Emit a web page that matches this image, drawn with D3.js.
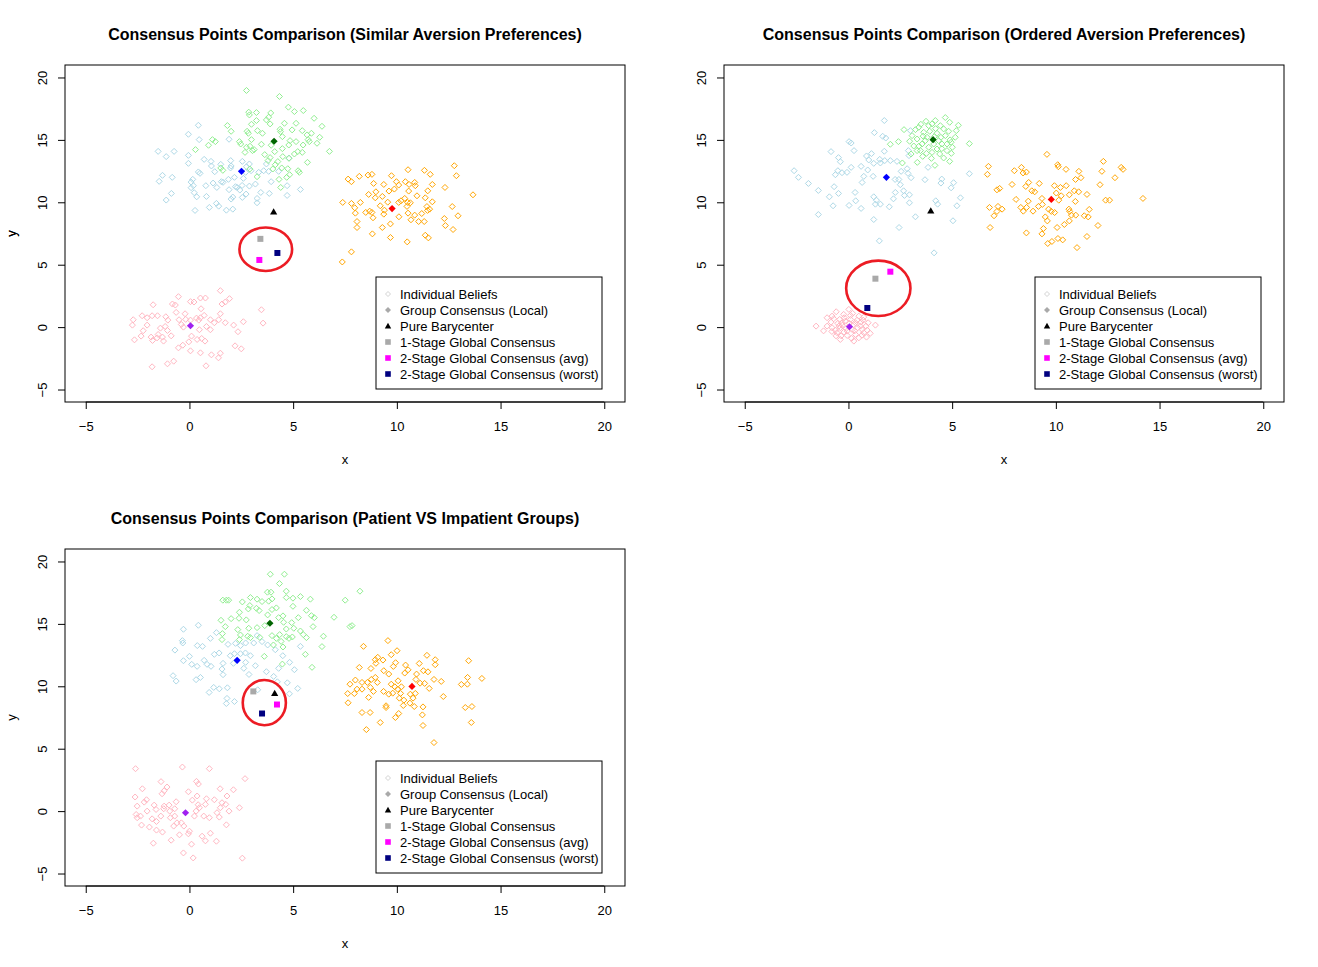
<!DOCTYPE html>
<html>
<head>
<meta charset="utf-8">
<script src="https://cdn.jsdelivr.net/npm/d3@7"></script>
<style>
  body { margin: 0; background: #fff; }
  svg { display: block; }
  text { font-family: "Liberation Sans", Arial, sans-serif; }
</style>
</head>
<body>
<div id="chart"></div>
<script>
// ---- data ----
const panelTitles = [
  "Consensus Points Comparison (Similar Aversion Preferences)",
  "Consensus Points Comparison (Ordered Aversion Preferences)",
  "Consensus Points Comparison (Patient VS Impatient Groups)"
];
const tickValues = [-5, 0, 5, 10, 15, 20];
const legendLabels = [
  "Individual Beliefs",
  "Group Consensus (Local)",
  "Pure Barycenter",
  "1-Stage Global Consensus",
  "2-Stage Global Consensus (avg)",
  "2-Stage Global Consensus (worst)"
];

// panel 1: similar aversion
const p1Blue = [[0.43,16.17],[-0.05,15.45],[0.47,15.02],[1.91,15.05],[-1.51,14.08],[-1.12,13.66],[-0.74,14.08],[-0.05,13.76],[-0.05,13.12],[0.71,13.44],[1.04,13.28],[1.06,12.91],[1.51,13.04],[1.99,13.34],[2.01,12.91],[2.55,13.28],[1.98,12.75],[0.43,12.43],[0.51,12.32],[1.22,12.45],[0.16,11.84],[0.08,11.62],[0.19,11.33],[0.08,11.17],[-1.46,11.68],[-1.3,12.16],[-0.83,12.0],[-0.87,10.71],[-1.12,10.18],[0.23,10.77],[0.35,10.44],[0.79,11.33],[0.82,10.47],[1.14,11.54],[1.32,11.19],[1.54,11.65],[1.62,11.6],[1.88,11.84],[2.17,12.0],[1.91,11.01],[2.22,11.25],[2.43,10.98],[2.54,11.35],[2.6,11.92],[2.71,12.4],[2.75,12.85],[2.89,13.07],[2.97,12.53],[3.34,12.4],[3.58,12.53],[3.71,13.07],[3.82,12.48],[3.94,11.65],[4.3,12.48],[4.71,11.33],[5.35,11.03],[4.71,10.55],[3.85,10.71],[3.44,10.79],[3.18,11.46],[2.89,11.3],[2.73,10.66],[3.26,10.31],[3.26,9.96],[2.55,10.39],[2.09,10.42],[2.01,10.26],[0.96,9.59],[1.3,9.91],[1.41,9.69],[1.78,9.37],[2.09,9.45],[0.27,9.35],[2.3,11.19],[4.8,13.55]];
const p1Green = [[2.75,18.96],[4.34,18.48],[4.77,17.62],[5.06,17.27],[5.49,17.35],[2.86,17.22],[3.23,17.19],[2.89,17.0],[3.92,17.16],[3.82,16.82],[3.71,16.6],[3.23,16.55],[3.89,16.28],[4.58,16.33],[5.14,16.33],[6.01,16.73],[6.39,16.09],[2.99,16.25],[1.83,16.15],[2.01,15.69],[2.78,15.69],[2.84,15.53],[3.28,15.74],[3.52,15.53],[4.37,15.85],[4.39,15.66],[4.95,15.8],[5.44,15.74],[5.88,15.53],[5.67,15.4],[6.28,15.21],[4.48,15.26],[4.85,14.94],[5.14,14.86],[5.72,15.02],[5.78,14.86],[6.15,14.73],[1.11,15.02],[1.25,14.86],[0.92,14.57],[2.41,14.86],[2.47,14.67],[2.99,15.02],[2.92,14.49],[2.75,14.41],[3.12,14.22],[3.47,14.65],[3.94,14.57],[4.48,14.3],[4.79,14.59],[5.48,14.59],[0.29,14.22],[2.68,14.0],[3.04,14.14],[4.11,14.06],[3.63,13.82],[3.89,13.58],[3.79,13.34],[4.26,13.26],[4.14,13.01],[4.5,13.66],[4.8,13.52],[5.06,13.87],[5.44,14.0],[5.22,14.06],[5.69,13.2],[6.75,14.08],[1.51,12.75],[1.61,12.56],[2.91,12.67],[4.02,12.67],[4.45,12.75],[4.74,12.69],[5.3,12.4],[4.32,11.84],[4.4,11.19],[4.69,12.0],[4.83,12.21],[5.24,12.53],[3.26,12.05]];
const p1Orange = [[12.77,12.93],[12.87,12.13],[10.54,12.61],[11.33,12.56],[11.61,12.24],[9.74,12.13],[8.61,12.18],[8.8,12.24],[8.19,12.08],[7.65,11.86],[7.81,11.65],[8.88,11.51],[9.37,11.43],[9.98,11.65],[10.09,11.38],[10.41,11.65],[10.86,11.59],[10.89,11.33],[10.59,11.43],[9.88,11.06],[9.62,10.9],[8.99,10.84],[8.64,10.63],[8.96,10.36],[9.3,10.47],[10.57,10.9],[10.97,10.52],[11.49,10.92],[11.71,11.43],[12.32,11.19],[13.67,10.6],[11.37,10.36],[11.71,10.04],[7.39,9.99],[7.81,9.91],[8.24,9.99],[7.97,9.56],[8.0,9.13],[8.5,9.19],[8.69,9.29],[8.8,9.19],[8.85,8.76],[9.2,9.72],[9.4,9.37],[9.56,10.01],[10.09,9.99],[10.2,10.12],[10.38,10.31],[10.52,9.99],[10.65,9.96],[10.49,9.67],[10.1,8.84],[10.54,9.13],[10.86,8.97],[10.68,8.6],[11.05,8.46],[11.32,8.46],[11.2,9.1],[11.48,9.35],[11.58,9.45],[11.45,9.66],[12.67,9.66],[12.95,8.92],[12.29,8.7],[12.34,8.14],[12.71,7.82],[9.69,8.27],[9.3,7.98],[8.08,8.46],[8.08,7.98],[8.82,7.47],[9.69,7.18],[10.5,6.83],[11.37,7.36],[11.52,7.15],[7.81,6.03],[7.37,5.22],[9.37,9.05]];
const p1Pink = [[1.49,2.92],[1.93,2.28],[1.73,2.01],[1.57,1.85],[-0.53,2.44],[-0.82,1.85],[-0.68,1.77],[-1.75,1.79],[0.05,2.04],[0.22,2.01],[0.53,2.33],[0.77,2.33],[0.56,1.47],[-0.64,1.18],[-0.21,1.07],[-2.28,0.91],[-2.04,0.75],[-1.8,0.91],[-1.54,0.91],[-2.71,0.59],[-2.75,0.16],[-2.04,0.16],[-2.23,-0.29],[-2.33,-0.72],[-2.65,-1.02],[-1.85,-0.8],[-1.78,-1.07],[-1.56,-0.86],[-1.51,-0.59],[-1.3,-0.8],[-1.25,-1.12],[-1.4,-0.08],[-1.17,0.05],[-1.06,-0.27],[-0.88,-0.7],[-1.14,0.83],[-1.04,0.56],[-0.5,0.59],[-0.39,0.21],[-0.29,0.0],[-0.18,0.62],[0.05,0.56],[0.34,0.72],[0.45,0.56],[0.53,0.75],[0.71,0.94],[1.01,0.59],[0.82,0.05],[1.01,-0.21],[0.48,-0.21],[1.2,0.35],[1.49,1.07],[1.41,0.59],[1.73,0.35],[2.13,0.16],[2.6,0.43],[3.47,1.39],[3.55,0.32],[2.34,-0.37],[0.1,-0.72],[-0.03,-1.18],[0.37,-0.99],[0.59,-0.91],[0.75,-1.12],[-0.32,-1.45],[-0.53,-1.66],[0.05,-1.9],[0.53,-2.06],[1.06,-2.22],[1.49,-2.09],[1.4,-2.46],[2.2,-1.5],[2.5,-1.74],[0.8,-3.1],[-0.76,-2.73],[-1.06,-2.94],[-1.8,-3.18]];
// group centres: blue, green, orange, pink groups
const p1Centers = [[2.51,12.48],[4.08,14.89],[9.77,9.5],[0.05,0.11]];
// barycenter, 1-stage, 2-stage avg, 2-stage worst
const p1Global = [[4.06,9.24],[3.42,7.07],[3.37,5.38],[4.24,5.94]];
// highlight ellipse: cx, cy, rx, ry (data units)
const p1Ring = [3.68, 6.24, 1.27, 1.74];

// panel 2: ordered aversion
const p2Blue = [[1.73,16.55],[1.25,15.58],[1.65,15.29],[1.8,15.15],[0.03,14.86],[0.13,14.75],[-0.84,14.06],[0.27,14.14],[-0.48,13.58],[-0.39,13.25],[0.87,13.71],[1.11,13.9],[0.98,13.39],[1.22,13.12],[1.51,13.44],[1.54,13.15],[1.73,14.09],[2.02,13.34],[2.34,13.28],[2.89,14.14],[2.92,13.74],[2.99,15.74],[-2.62,12.53],[-2.41,12.0],[-1.93,11.51],[-1.45,10.95],[-0.69,11.25],[-0.63,12.21],[-0.51,12.53],[-0.31,12.37],[-0.07,12.4],[0.13,12.8],[0.61,12.88],[0.74,12.08],[0.66,11.59],[0.93,12.59],[1.19,12.08],[-0.48,10.71],[-0.92,10.44],[-0.74,9.72],[-1.45,9.02],[0.03,9.75],[0.32,10.79],[0.35,10.12],[0.61,9.51],[1.22,10.44],[1.35,10.17],[1.3,9.85],[1.54,9.85],[1.22,8.62],[1.97,9.64],[2.17,10.28],[2.26,10.79],[2.25,11.83],[2.43,11.83],[2.5,11.41],[2.66,10.92],[2.94,10.6],[2.7,10.55],[2.94,9.96],[2.54,12.48],[2.83,12.69],[2.87,12.32],[3.02,11.97],[2.44,7.98],[3.23,8.84],[1.49,6.91],[4.13,5.95],[3.69,11.81],[3.84,12.8],[4.5,11.86],[4.46,11.54],[4.95,11.16],[5.07,11.57],[5.4,10.36],[5.83,12.29],[4.21,10.12],[4.3,9.85],[5.23,9.72],[5.04,8.52],[1.75,13.34]];
const p2Green = [[2.68,15.82],[2.02,14.65],[2.41,14.86],[2.6,13.15],[3.32,13.2],[4.17,12.96],[4.88,13.28],[5.83,14.7],[5.3,16.17],[4.67,16.79],[4.19,16.55],[3.74,16.49],[3.49,16.25],[3.23,15.82],[3.07,15.34],[2.95,14.89],[3.15,14.51],[3.31,14.14],[3.02,13.87],[3.58,13.68],[4.0,13.52],[4.59,13.55],[4.96,13.92],[5.01,14.41],[5.15,15.21],[5.2,15.74],[4.88,16.41],[4.43,16.14],[3.87,16.14],[3.63,15.61],[3.79,15.21],[4.27,15.53],[4.67,15.34],[4.51,14.67],[4.27,14.27],[3.87,14.41],[3.55,14.67],[3.31,15.07],[4.03,14.0],[4.75,14.14],[4.95,14.81],[3.92,15.69],[4.59,15.88],[4.11,14.67],[4.35,14.94],[3.71,14.94],[3.47,14.14],[4.4,13.87],[4.75,14.67],[3.39,16.01],[4.03,16.28],[3.76,13.92],[4.83,15.69],[4.14,15.26],[4.46,15.21],[3.6,15.3],[4.2,15.9],[4.9,15.0],[3.4,14.5],[4.5,14.3]];
const p2Orange = [[9.57,13.84],[10.09,13.01],[10.12,12.85],[10.49,12.64],[11.11,12.48],[12.29,13.28],[12.22,12.48],[13.15,12.8],[13.24,12.64],[12.85,11.97],[11.21,11.97],[10.95,11.83],[12.13,11.41],[6.75,12.88],[6.7,12.24],[8.0,12.53],[8.34,12.8],[8.42,12.35],[8.58,12.42],[7.89,11.43],[7.16,11.0],[7.29,11.11],[8.69,11.59],[8.55,11.27],[8.84,10.92],[8.98,10.84],[9.2,11.51],[9.93,11.33],[10.22,11.19],[10.5,11.33],[10.02,10.74],[10.26,10.52],[10.65,10.6],[10.89,10.92],[11.1,10.84],[11.5,10.63],[8.08,10.23],[8.67,10.09],[9.33,10.31],[10.14,10.17],[10.94,10.07],[12.4,10.17],[12.59,10.17],[14.2,10.31],[6.8,9.59],[7.21,9.67],[7.41,9.45],[7.02,8.92],[7.16,9.27],[8.31,9.59],[8.43,9.29],[8.59,9.59],[8.9,9.29],[9.16,9.67],[9.35,9.83],[9.65,9.45],[9.78,9.27],[9.94,9.18],[10.63,9.45],[10.67,9.27],[10.75,8.97],[10.96,8.97],[11.37,8.92],[11.61,9.43],[11.56,8.83],[9.49,8.83],[9.59,8.51],[10.65,8.51],[10.41,8.22],[10.06,7.98],[12.03,8.14],[6.83,7.98],[9.4,7.9],[8.58,7.55],[9.33,7.47],[11.5,7.26],[10.1,7.1],[10.33,6.99],[9.81,6.86],[9.61,6.7],[11.02,6.37]];
const p2Pink = [[-0.59,1.23],[0.02,1.42],[-0.23,1.02],[0.1,0.94],[-0.71,0.67],[-0.42,0.62],[-0.84,0.4],[-1.56,0.08],[-1.03,0.08],[-0.79,-0.05],[-0.51,0.3],[-0.31,0.35],[0.42,0.56],[0.71,0.56],[0.85,0.08],[1.3,0.16],[0.58,0.08],[0.34,0.35],[-0.39,-0.05],[-0.22,-0.4],[-0.55,-0.45],[-0.06,-0.67],[0.34,-0.59],[0.74,-0.45],[0.87,-0.8],[0.5,-0.86],[-0.39,-0.99],[0.26,-1.12],[-0.06,-0.32],[0.18,-0.19],[0.66,-0.19],[-0.63,-0.24],[0.9,-0.24],[-0.15,0.48],[0.1,0.62],[0.5,0.88],[0.74,0.8],[-1.03,0.75],[-0.79,0.88],[-0.3,0.15],[0.25,0.2],[-0.6,-0.7],[0.95,0.35],[0.15,-0.9],[-1.2,-0.3],[-0.45,0.1],[0.05,0.3],[0.3,-0.3],[-0.2,0.75],[0.6,0.4],[-0.8,-0.35],[1.05,-0.5],[0.45,-0.05],[-0.1,-0.1],[0.2,1.1],[-0.35,-0.7],[0.65,-0.65]];
const p2Centers = [[1.83,12.0],[4.08,15.02],[9.78,10.23],[0.05,0.03]];
const p2Global = [[3.97,9.32],[1.3,3.88],[2.02,4.44],[0.91,1.53]];
const p2Ring = [1.44, 3.11, 1.55, 2.22];

// panel 3: patient vs impatient
const p3Blue = [[-0.29,14.57],[0.43,14.89],[1.01,13.84],[-0.34,13.66],[-0.32,13.47],[0.38,13.26],[0.63,13.2],[1.86,13.36],[2.22,13.44],[2.46,13.26],[2.71,13.47],[3.1,13.47],[3.5,13.58],[3.26,14.06],[3.77,13.31],[4.14,12.93],[5.35,13.2],[4.5,12.45],[0.0,12.4],[-0.29,12.05],[0.11,11.76],[0.37,11.6],[0.71,12.08],[0.85,11.76],[1.04,11.6],[1.2,12.56],[1.43,12.67],[1.62,11.84],[1.57,11.38],[1.97,12.45],[2.17,12.61],[2.46,12.61],[2.7,12.67],[2.94,12.45],[2.71,11.92],[3.18,11.65],[2.62,11.44],[2.12,11.84],[-0.79,10.85],[-0.64,10.42],[0.32,10.53],[0.53,10.71],[1.62,10.93],[2.87,10.95],[3.71,11.17],[4.06,10.79],[4.3,11.44],[4.83,11.92],[5.06,11.33],[4.24,10.36],[4.72,10.28],[5.22,9.83],[4.82,9.4],[1.17,9.91],[1.44,9.8],[0.95,9.51],[1.83,9.88],[1.81,9.03],[1.78,8.62],[2.17,8.78],[3.29,9.72],[-0.7,12.9],[1.3,14.3]];
const p3Green = [[3.9,18.98],[4.58,18.98],[4.34,18.23],[4.67,17.62],[3.76,17.54],[3.93,17.54],[8.22,17.62],[1.61,16.9],[1.78,16.9],[1.89,16.9],[2.55,16.76],[2.94,17.11],[3.26,16.98],[3.5,16.79],[3.82,16.82],[3.98,17.0],[4.67,17.11],[4.99,17.06],[5.35,17.19],[5.83,16.98],[7.51,16.9],[2.41,15.93],[2.84,16.2],[2.91,16.47],[3.23,16.25],[3.36,16.07],[3.98,16.15],[4.19,16.28],[4.99,16.41],[5.64,16.09],[5.88,15.66],[6.02,15.5],[6.97,15.53],[1.52,15.29],[2.01,15.42],[2.39,15.45],[1.73,14.78],[2.33,14.54],[2.74,15.32],[2.86,14.65],[3.26,14.7],[3.63,14.86],[3.77,15.72],[4.3,15.5],[4.51,15.64],[4.54,15.13],[4.67,14.59],[4.93,15.1],[5.03,14.65],[5.25,15.5],[5.35,14.43],[5.49,14.14],[5.64,13.9],[5.96,14.78],[6.46,14.01],[6.39,13.18],[5.59,12.56],[5.91,11.52],[1.59,14.22],[1.57,13.74],[2.46,14.11],[2.41,13.74],[2.81,14.01],[2.94,13.9],[3.39,13.92],[3.98,14.06],[4.19,13.84],[4.35,14.14],[4.42,13.6],[4.67,13.98],[4.8,13.84],[4.96,13.95],[4.05,13.31],[4.51,13.15],[3.61,12.4],[4.48,11.78],[7.74,14.78],[7.84,14.86]];
const p3Orange = [[8.39,13.2],[9.57,13.66],[10.01,12.85],[9.73,12.53],[9.08,12.32],[8.96,12.13],[9.33,12.1],[8.99,11.84],[8.19,11.51],[8.75,11.43],[9.94,11.89],[9.83,11.59],[10.42,11.7],[10.54,11.32],[10.38,11.06],[9.37,11.25],[9.61,10.98],[11.45,12.48],[11.85,12.13],[11.85,11.73],[11.08,11.83],[11.28,11.25],[11.5,11.16],[10.95,10.98],[10.92,10.55],[11.12,10.25],[11.34,10.23],[11.79,10.55],[12.14,10.39],[13.46,12.05],[13.41,10.71],[13.4,10.17],[13.11,10.15],[14.1,10.63],[8.0,10.5],[7.74,10.17],[8.32,10.31],[8.58,10.31],[8.77,10.55],[8.96,10.71],[9.06,10.31],[10.06,10.44],[9.73,10.17],[9.9,9.96],[10.04,9.77],[10.22,9.96],[8.72,9.91],[8.32,9.77],[8.08,9.77],[7.63,9.42],[7.95,9.42],[8.87,9.59],[9.36,9.59],[9.61,9.37],[9.8,9.45],[10.18,9.43],[10.65,9.37],[10.89,9.43],[11.56,9.83],[8.64,9.11],[10.12,9.05],[10.34,8.89],[10.78,9.05],[12.24,9.18],[7.65,8.68],[9.48,8.44],[9.48,8.3],[10.31,8.46],[10.63,8.65],[10.84,8.38],[11.26,8.35],[11.23,7.71],[13.3,8.3],[13.62,8.38],[8.32,7.9],[8.71,7.9],[10.09,7.82],[9.93,7.5],[9.2,7.1],[11.26,6.86],[13.59,7.1],[8.53,6.53],[11.79,5.49]];
const p3Pink = [[-2.6,3.4],[-0.34,3.53],[0.96,3.4],[2.68,2.6],[-1.37,2.36],[0.34,2.38],[0.43,2.17],[-1.08,1.93],[-1.22,1.63],[-1.32,1.39],[-2.27,1.79],[-0.05,1.55],[1.48,1.79],[2.12,1.71],[1.81,1.21],[-2.62,1.13],[-2.07,0.91],[-2.18,0.72],[-2.52,0.4],[-1.7,0.48],[-1.22,0.4],[-0.98,0.48],[-0.64,0.75],[-0.71,0.19],[0.14,0.88],[0.37,1.21],[0.82,0.99],[1.2,0.91],[1.57,0.67],[1.75,0.54],[0.42,0.51],[0.77,0.54],[2.41,0.27],[1.91,0.0],[1.49,0.27],[1.33,-0.13],[1.44,-0.48],[0.48,0.27],[0.32,0.0],[0.24,-0.4],[0.69,-0.4],[0.96,-0.53],[-1.61,0.13],[-2.04,0.0],[-2.57,-0.27],[-2.36,-0.4],[-2.52,-0.53],[-1.8,-0.62],[-1.59,-0.83],[-1.38,-0.4],[-1.24,0.19],[-0.95,0.0],[-0.92,-0.53],[-0.71,-0.4],[-0.6,-0.94],[-0.76,-1.2],[-0.39,-0.94],[-0.27,-1.2],[-2.31,-1.12],[-1.93,-1.28],[-1.59,-1.52],[-1.3,-1.68],[-0.48,-1.9],[-0.05,-1.82],[0.0,-1.61],[0.61,-2.01],[0.77,-2.38],[1.01,-1.77],[1.3,-2.41],[1.78,-1.1],[-0.88,-2.33],[-1.74,-2.57],[0.1,-2.65],[-0.29,-3.35],[0.18,-3.75],[2.55,-3.77]];
const p3Centers = [[2.3,12.08],[3.88,15.05],[10.73,9.99],[-0.19,-0.13]];
const p3Global = [[4.11,9.43],[3.08,9.59],[4.22,8.54],[3.5,7.82]];
const p3Ring = [3.61, 8.69, 1.04, 1.81];

// ---- styling / layout ----
const beliefColors = ["#ADD8E6", "#90EE90", "#FFA500", "#FFB6C1"];
const centerColors = ["#0000FF", "#006400", "#FF0000", "#A020F0"];
const globalColors = ["#000000", "#A9A9A9", "#FF00FF", "#000080"];
const globalShapes = ["triangle", "square", "square", "square"];

const panels = [
  { left: 65, top: 65, title: panelTitles[0], groups: [p1Blue, p1Green, p1Orange, p1Pink], centers: p1Centers, global: p1Global, ring: p1Ring },
  { left: 724, top: 65, title: panelTitles[1], groups: [p2Blue, p2Green, p2Orange, p2Pink], centers: p2Centers, global: p2Global, ring: p2Ring },
  { left: 65, top: 549, title: panelTitles[2], groups: [p3Blue, p3Green, p3Orange, p3Pink], centers: p3Centers, global: p3Global, ring: p3Ring }
];
const plotW = 560, plotH = 337;

const svg = d3.select("#chart").append("svg")
  .attr("width", 1318)
  .attr("height", 967)
  .style("background", "#fff");

const diamond = r => `M0,${-r}L${r},0L0,${r}L${-r},0Z`;
const triangle = r => `M0,${-r}L${r},${r * 0.75}L${-r},${r * 0.75}Z`;
const square = r => `M${-r},${-r}H${r}V${r}H${-r}Z`;

function drawPanel(p) {
  const x = d3.scaleLinear().domain([-6, 21]).range([p.left, p.left + plotW]);
  const y = d3.scaleLinear().domain([-6, 21]).range([p.top + plotH, p.top]);
  const g = svg.append("g");

  // title
  g.append("text")
    .attr("x", p.left + plotW / 2)
    .attr("y", p.top - 25)
    .attr("text-anchor", "middle")
    .style("font-size", "16px")
    .style("font-weight", "bold")
    .text(p.title);

  // axes (R style: ticks outward, no domain line)
  const xAxis = g.append("g")
    .attr("transform", `translate(0,${p.top + plotH})`)
    .call(d3.axisBottom(x).tickValues(tickValues).tickSize(7).tickPadding(13).tickSizeOuter(0));
  xAxis.select(".domain").remove();
  xAxis.selectAll("text").style("font-size", "13px").style("font-family", "Liberation Sans, Arial, sans-serif");
  xAxis.append("line")
    .attr("x1", x(-5)).attr("x2", x(20))
    .attr("stroke", "#000");

  const yAxis = g.append("g")
    .attr("transform", `translate(${p.left},0)`)
    .call(d3.axisLeft(y).tickValues(tickValues).tickSize(7).tickSizeOuter(0));
  yAxis.select(".domain").remove();
  yAxis.selectAll("text")
    .attr("x", 0).attr("y", -18).attr("dy", 0)
    .attr("text-anchor", "middle")
    .attr("transform", "rotate(-90)")
    .style("font-size", "13px")
    .style("font-family", "Liberation Sans, Arial, sans-serif");

  // axis titles
  g.append("text")
    .attr("x", p.left + plotW / 2)
    .attr("y", p.top + plotH + 62)
    .attr("text-anchor", "middle")
    .style("font-size", "13px")
    .text("x");
  g.append("text")
    .attr("transform", `translate(16,${p.top + plotH / 2}) rotate(-90)`)
    .attr("text-anchor", "middle")
    .style("font-size", "13px")
    .text("y");

  // individual beliefs
  p.groups.forEach((pts, i) => {
    g.append("g").selectAll("path")
      .data(pts)
      .join("path")
      .attr("d", diamond(3))
      .attr("transform", d => `translate(${x(d[0])},${y(d[1])})`)
      .attr("fill", "none")
      .attr("stroke", beliefColors[i])
      .attr("stroke-width", 1);
  });

  // local group consensus
  g.append("g").selectAll("path")
    .data(p.centers)
    .join("path")
    .attr("d", diamond(3.6))
    .attr("transform", d => `translate(${x(d[0])},${y(d[1])})`)
    .attr("fill", (d, i) => centerColors[i]);

  // barycenter and global consensus points
  g.append("g").selectAll("path")
    .data(p.global)
    .join("path")
    .attr("d", (d, i) => globalShapes[i] === "triangle" ? triangle(3.6) : square(3))
    .attr("transform", d => `translate(${x(d[0])},${y(d[1])})`)
    .attr("fill", (d, i) => globalColors[i]);

  // highlight ring
  const [cx, cy, rx, ry] = p.ring;
  g.append("ellipse")
    .attr("cx", x(cx)).attr("cy", y(cy))
    .attr("rx", x(cx + rx) - x(cx))
    .attr("ry", y(cy) - y(cy + ry))
    .attr("fill", "none")
    .attr("stroke", "#EC1C24")
    .attr("stroke-width", 2.6);

  // plot box
  g.append("rect")
    .attr("x", p.left).attr("y", p.top)
    .attr("width", plotW).attr("height", plotH)
    .attr("fill", "none")
    .attr("stroke", "#000");

  // legend (bottom right)
  const lx = p.left + plotW - 249, ly = p.top + plotH - 125;
  const leg = g.append("g").attr("transform", `translate(${lx},${ly})`);
  leg.append("rect")
    .attr("width", 226).attr("height", 112)
    .attr("fill", "#fff").attr("stroke", "#000");
  const legSym = [
    { d: diamond(2.5), fill: "none", stroke: "#D3D3D3" },
    { d: diamond(3), fill: "#A9A9A9", stroke: "none" },
    { d: triangle(3.2), fill: "#000", stroke: "none" },
    { d: square(2.8), fill: "#A9A9A9", stroke: "none" },
    { d: square(2.8), fill: "#FF00FF", stroke: "none" },
    { d: square(2.8), fill: "#000080", stroke: "none" }
  ];
  const rows = leg.selectAll("g.row")
    .data(legendLabels)
    .join("g")
    .attr("class", "row")
    .attr("transform", (d, i) => `translate(0,${17 + i * 16})`);
  rows.append("path")
    .attr("d", (d, i) => legSym[i].d)
    .attr("transform", "translate(12,0)")
    .attr("fill", (d, i) => legSym[i].fill)
    .attr("stroke", (d, i) => legSym[i].stroke);
  rows.append("text")
    .attr("x", 24)
    .attr("y", 4.5)
    .style("font-size", "13px")
    .text(d => d);
}

panels.forEach(drawPanel);
</script>
</body>
</html>
